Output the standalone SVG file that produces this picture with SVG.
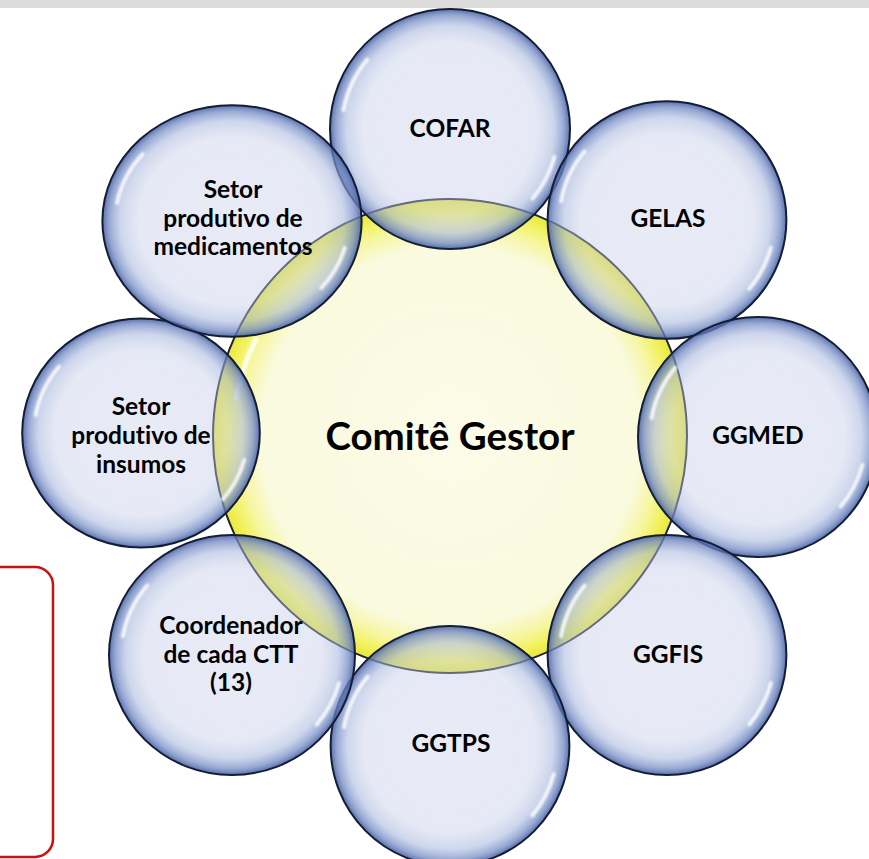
<svg xmlns="http://www.w3.org/2000/svg" xmlns:xlink="http://www.w3.org/1999/xlink" width="869" height="859" viewBox="0 0 869 859">
  <style>
    .lbl { font-family: Lato, "Open Sans", "Liberation Sans", sans-serif; font-weight: bold; font-size: 24.5px; fill: #000; text-anchor: middle; font-variant-ligatures: none; font-feature-settings: "liga" 0, "clig" 0; }
    .big { font-family: Lato, "Open Sans", "Liberation Sans", sans-serif; font-weight: bold; font-size: 38.5px; fill: #000; text-anchor: middle; font-variant-ligatures: none; font-feature-settings: "liga" 0, "clig" 0; }
    .bubble { fill: url(#gBlue); stroke: #141d33; stroke-width: 2; }
    .hl { fill: none; stroke: #ffffff; stroke-width: 4; stroke-linecap: round; opacity: 0.85; filter: url(#soft); }
  </style>
  <defs>
    <radialGradient id="gBlue" cx="0.5" cy="0.5" r="0.5">
      <stop offset="0" stop-color="#c6cee9" stop-opacity="0.4"/>
      <stop offset="0.72" stop-color="#c3cbe8" stop-opacity="0.42"/>
      <stop offset="0.86" stop-color="#a5b5dc" stop-opacity="0.55"/>
      <stop offset="0.95" stop-color="#7189c3" stop-opacity="0.75"/>
      <stop offset="1" stop-color="#4660a3" stop-opacity="0.9"/>
    </radialGradient>
    <radialGradient id="gYellow" cx="0.5" cy="0.5" r="0.5">
      <stop offset="0" stop-color="#fbfbe8"/>
      <stop offset="0.8" stop-color="#fafadf"/>
      <stop offset="0.89" stop-color="#f6f6a2"/>
      <stop offset="0.95" stop-color="#f2f260"/>
      <stop offset="1" stop-color="#e8e83c"/>
    </radialGradient>
    <filter id="soft" x="-20%" y="-20%" width="140%" height="140%">
      <feGaussianBlur stdDeviation="1.2"/>
    </filter>
    <g id="bubble">
      <circle class="bubble" cx="0" cy="0" r="120" vector-effect="non-scaling-stroke"/>
      <path class="hl" d="M -106.4 -18.8 A 108 108 0 0 1 -82.7 -69.4" vector-effect="non-scaling-stroke"/>
      <path class="hl" d="M 104.3 28 A 108 108 0 0 1 82.7 69.4" vector-effect="non-scaling-stroke"/>
    </g>
  </defs>

  <rect x="0" y="0" width="869" height="8" fill="#dcdcdc"/>
  <rect x="-20" y="567" width="73" height="290" rx="18" ry="18" fill="none" stroke="#cc1010" stroke-width="2.5"/>

  <g id="node-comite">
    <circle cx="450" cy="436" r="237" fill="url(#gYellow)" stroke="#1e2233" stroke-width="2"/>
    <path d="M 236.3 398.3 A 217 217 0 0 1 255.9 339.3" fill="none" stroke="#ffffff" stroke-width="5" stroke-linecap="round" opacity="0.85" filter="url(#soft)"/>
    <text class="big" x="450" y="450">Comitê Gestor</text>
  </g>

  <g id="connectors"></g>

  <g id="node-cofar">
    <use xlink:href="#bubble" transform="translate(450 129)"/>
    <text class="lbl" x="450" y="137">COFAR</text>
  </g>
  <g id="node-gelas">
    <use xlink:href="#bubble" transform="translate(667 220) scale(0.995 0.99)"/>
    <text class="lbl" x="668" y="227">GELAS</text>
  </g>
  <g id="node-ggmed">
    <use xlink:href="#bubble" transform="translate(758 437)"/>
    <text class="lbl" x="758" y="444">GGMED</text>
  </g>
  <g id="node-ggfis">
    <use xlink:href="#bubble" transform="translate(667 655) scale(0.995 1)"/>
    <text class="lbl" x="668" y="663">GGFIS</text>
  </g>
  <g id="node-ggtps">
    <use xlink:href="#bubble" transform="translate(450 746) scale(0.995 1)"/>
    <text class="lbl" x="451" y="752">GGTPS</text>
  </g>
  <g id="node-coordenador">
    <use xlink:href="#bubble" transform="translate(232 655) scale(1.025 1)"/>
    <text class="lbl" x="231" y="634">Coordenador</text>
    <text class="lbl" x="231" y="663">de cada CTT</text>
    <text class="lbl" x="231" y="691">(13)</text>
  </g>
  <g id="node-insumos">
    <use xlink:href="#bubble" transform="translate(141 433) scale(0.99 0.955)"/>
    <text class="lbl" x="141" y="415">Setor</text>
    <text class="lbl" x="141" y="444">produtivo de</text>
    <text class="lbl" x="141" y="473">insumos</text>
  </g>
  <g id="node-medicamentos">
    <use xlink:href="#bubble" transform="translate(232 221) scale(1.08 0.965)"/>
    <text class="lbl" x="233" y="198">Setor</text>
    <text class="lbl" x="233" y="227">produtivo de</text>
    <text class="lbl" x="233" y="255">medicamentos</text>
  </g>
</svg>
